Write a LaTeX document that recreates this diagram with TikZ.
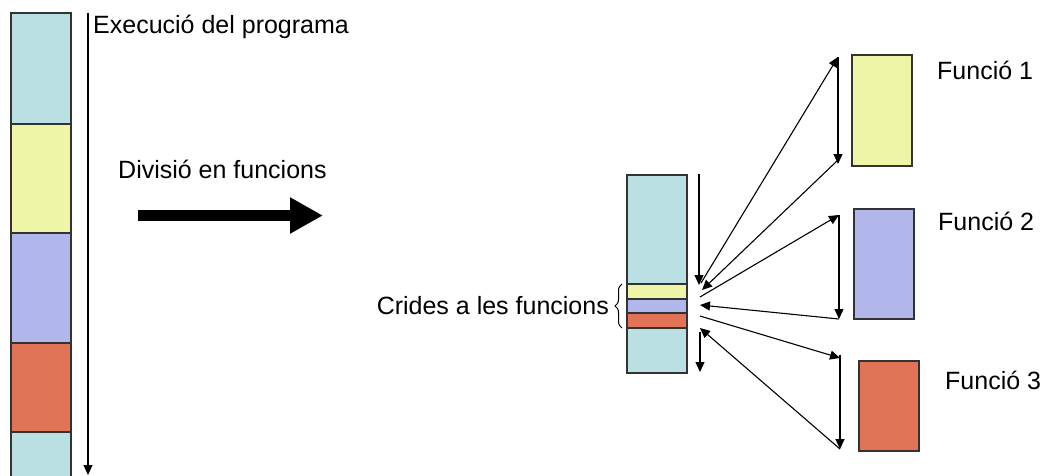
\documentclass[tikz,border=0pt]{standalone}
\usepackage{fontspec}
\setmainfont{Liberation Sans}
\usetikzlibrary{positioning, arrows.meta, decorations.pathreplacing}

\definecolor{segteal}{RGB}{187,224,227}
\definecolor{segyellow}{RGB}{238,245,166}
\definecolor{segblue}{RGB}{177,182,235}
\definecolor{segred}{RGB}{225,115,86}

\begin{document}
\begin{tikzpicture}[
    x=1pt, y=-1pt,
    seg/.style={
        rectangle,
        draw=black!80,
        line width=1.2pt,
        fill=#1,
        minimum width=60pt,
        inner sep=0pt,
        outer sep=0pt,
        anchor=north west
    },
    label/.style={
        anchor=base west,
        inner sep=0pt,
        font=\fontsize{25}{30}\selectfont
    },
    arr/.style={
        line width=1.1pt,
        -{Triangle[length=10pt,width=9pt]}
    }
]
\useasboundingbox (0,0) rectangle (1043,475);

% --- Execucio del programa: whole column ---
\node[seg=segteal, minimum height=111pt] (p1) at (11,13) {};
\node[seg=segyellow, minimum height=109pt] (p2) at (11,124) {};
\node[seg=segblue, minimum height=110pt] (p3) at (11,233) {};
\node[seg=segred, minimum height=89pt] (p4) at (11,343) {};
\node[seg=segteal, minimum height=60pt] (p5) at (11,432) {};

\coordinate (runtop) at (88,13);
\coordinate (runend) at (88,475);
\draw[arr] (runtop) -- (runend);
\node[label] (runlabel) at (93,33) {Execució del programa};

% --- Divisio en funcions ---
\node[label] (divlabel) at (118,178) {Divisió en funcions};
\coordinate (divstart) at (138,215.5);
\coordinate (divend) at (323,215.5);
\draw[line width=11pt, -{Triangle[length=33pt,width=34pt]}] (divstart) -- (divend);

% --- Program with calls ---
\node[seg=segteal, minimum height=198pt] (main) at (627,175) {};
\node[seg=segyellow, minimum height=15pt] (call1) at (627,284) {};
\node[seg=segblue, minimum height=14pt] (call2) at (627,299) {};
\node[seg=segred, minimum height=15pt] (call3) at (627,313) {};

\draw[decorate, decoration={brace, amplitude=7pt}, line width=1pt]
    (call1.north west) ++(-5,0) coordinate (bracetop) (call3.south west) ++(-5,0) coordinate (bracebot)
    (bracebot) -- (bracetop);
\node[label, anchor=base east] (calllabel) at (609,314) {Crides a les funcions};

% --- Functions ---
\node[seg=segyellow, minimum height=111pt] (fun1) at (852,55) {};
\node[seg=segblue, minimum height=110pt] (fun2) at (854,209) {};
\node[seg=segred, minimum height=90pt] (fun3) at (859,361) {};

\node[label] (fun1label) at (937,79) {Funció 1};
\node[label] (fun2label) at (938,230) {Funció 2};
\node[label] (fun3label) at (945,389) {Funció 3};

% --- Flow of execution ---
\coordinate (in1) at (699,174);
\coordinate (in2) at (699,285);
\coordinate (go1) at (701,283);
\coordinate (ret1) at (702,290);
\coordinate (go2) at (700,297);
\coordinate (ret2) at (700,305);
\coordinate (go3) at (700,316);
\coordinate (ret3) at (700,328);
\coordinate (out1) at (700,332);
\coordinate (out2) at (700,372);

\coordinate (f1top) at (838,57);
\coordinate (f1bot) at (838,164);
\coordinate (f2top) at (839,215);
\coordinate (f2bot) at (839,319);
\coordinate (f3top) at (840,358);
\coordinate (f3bot) at (840,449);

\draw[arr] (in1) -- (in2);
\draw[arr] (go1) -- (f1top);
\draw[arr] (f1top) -- (f1bot);
\draw[arr] ([yshift=4pt]f1bot) -- (ret1);
\draw[arr] (go2) -- (f2top);
\draw[arr] (f2top) -- (f2bot);
\draw[arr] (f2bot) -- (ret2);
\draw[arr] (go3) -- (f3top);
\draw[arr] ([yshift=3pt]f3top) -- (f3bot);
\draw[arr] (f3bot) -- (ret3);
\draw[arr] (out1) -- (out2);

\end{tikzpicture}
\end{document}
